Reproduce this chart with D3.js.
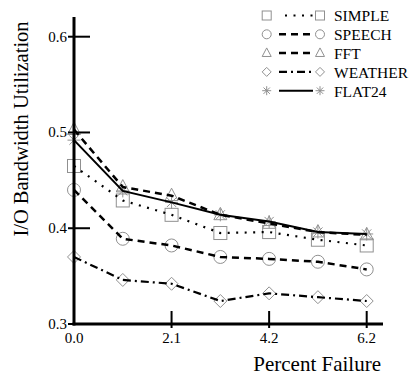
<!DOCTYPE html>
<html>
<head>
<meta charset="utf-8">
<script src="https://cdn.jsdelivr.net/npm/d3@7"></script>
<style>
  body { margin: 0; background: #fff; }
  text { font-family: "Liberation Serif", "Times New Roman", serif; }
</style>
</head>
<body>
<div id="chart"></div>
<script>
// data
const failure = [0, 1.05, 2.1, 3.15, 4.2, 5.25, 6.3];
const xTicks = [0, 2.1, 4.2, 6.3];
const xTickLabels = ["0.0", "2.1", "4.2", "6.2"];
const yTicks = [0.3, 0.4, 0.5, 0.6];
const simple  = [0.465, 0.429, 0.414, 0.395, 0.396, 0.388, 0.382];
const speech  = [0.440, 0.389, 0.382, 0.370, 0.368, 0.365, 0.357];
const fft     = [0.503, 0.443, 0.434, 0.414, 0.405, 0.396, 0.393];
const weather = [0.370, 0.346, 0.342, 0.324, 0.332, 0.328, 0.324];
const flat24  = [0.492, 0.439, 0.427, 0.414, 0.407, 0.396, 0.394];

const series = [
  {name: "SIMPLE",  vals: simple,  sym: "square",   dash: "2,6.5", w: 2.2},
  {name: "SPEECH",  vals: speech,  sym: "circle",   dash: "7,5",   w: 2.5},
  {name: "FFT",     vals: fft,     sym: "triangle", dash: "7,5",   w: 2.5},
  {name: "WEATHER", vals: weather, sym: "diamond",  dash: "8,4,2,4", w: 2.2},
  {name: "FLAT24",  vals: flat24,  sym: "star",     dash: null,    w: 2}
];

const W = 413, H = 379;
const svg = d3.select("#chart").append("svg").attr("width", W).attr("height", H);

const x = d3.scaleLinear().domain([0, 6.3]).range([74, 366.7]);
const y = d3.scaleLinear().domain([0.3, 0.6]).range([324, 36.7]);

// marker drawing
function marker(g, sym, cx, cy, s) {
  const h = s / 2;
  if (sym == "square") {
    g.append("rect").attr("x", cx - h).attr("y", cy - h).attr("width", s).attr("height", s);
  } else if (sym == "circle") {
    g.append("circle").attr("cx", cx).attr("cy", cy).attr("r", h);
  } else if (sym == "triangle") {
    g.append("path").attr("d", `M${cx},${cy - h * 1.15}L${cx + h},${cy + h * 0.75}L${cx - h},${cy + h * 0.75}Z`);
  } else if (sym == "diamond") {
    g.append("path").attr("d", `M${cx},${cy - h}L${cx + h},${cy}L${cx},${cy + h}L${cx - h},${cy}Z`);
  } else if (sym == "star") {
    const p = [];
    for (let a = 0; a < 4; a++) {
      const ang = a * Math.PI / 4;
      p.push(`M${cx - h * Math.cos(ang)},${cy - h * Math.sin(ang)}L${cx + h * Math.cos(ang)},${cy + h * Math.sin(ang)}`);
    }
    g.append("path").attr("d", p.join(""));
  }
}

const line = d3.line().x((d, i) => x(failure[i])).y(d => y(d));

// markers (grey, under lines)
const mk = svg.append("g").attr("fill", "none").attr("stroke", "#909090").attr("stroke-width", 1);
series.forEach(s => {
  s.vals.forEach((v, i) => marker(mk, s.sym, x(failure[i]), y(v), 13));
});

// lines
series.forEach(s => {
  svg.append("path").datum(s.vals)
    .attr("d", line)
    .attr("fill", "none")
    .attr("stroke", "#000")
    .attr("stroke-width", s.w)
    .attr("stroke-dasharray", s.dash);
});

// axes
const axes = svg.append("g").attr("stroke", "#000");
axes.append("line").attr("x1", 74).attr("x2", 74).attr("y1", 17).attr("y2", 325.5).attr("stroke-width", 3);
axes.append("line").attr("x1", 72.5).attr("x2", 383).attr("y1", 324).attr("y2", 324).attr("stroke-width", 3);
yTicks.forEach(t => {
  axes.append("line").attr("x1", 68).attr("x2", 90).attr("y1", y(t)).attr("y2", y(t)).attr("stroke-width", 2);
});
xTicks.forEach(t => {
  if (t > 0) axes.append("line").attr("x1", x(t)).attr("x2", x(t)).attr("y1", 311).attr("y2", 328).attr("stroke-width", 2);
});

svg.selectAll(".ylab").data(yTicks).enter().append("text")
  .attr("x", 67).attr("y", t => y(t) + 5)
  .attr("text-anchor", "end").attr("font-size", 15)
  .text(t => t.toFixed(1));

svg.selectAll(".xlab").data(xTicks).enter().append("text")
  .attr("x", t => x(t)).attr("y", 343)
  .attr("text-anchor", "middle").attr("font-size", 15)
  .text((t, i) => xTickLabels[i]);

svg.append("text").attr("x", 381).attr("y", 371)
  .attr("text-anchor", "end").attr("font-size", 21)
  .text("Percent Failure");

svg.append("text")
  .attr("transform", "translate(28,129) rotate(-90)")
  .attr("text-anchor", "middle").attr("font-size", 20.5)
  .text("I/O Bandwidth Utilization");

// legend
const leg = svg.append("g");
series.forEach((s, i) => {
  const ly = 15.5 + i * 18.8;
  const lm = leg.append("g").attr("fill", "none").attr("stroke", "#909090").attr("stroke-width", 1);
  marker(lm, s.sym, 266.7, ly, 9);
  marker(lm, s.sym, 320, ly, 9);
  leg.append("line").attr("x1", s.dash == "2,6.5" ? 285 : 279).attr("x2", 313).attr("y1", ly).attr("y2", ly)
    .attr("stroke", "#000").attr("stroke-width", s.w)
    .attr("stroke-dasharray", s.dash);
  leg.append("text").attr("x", 334).attr("y", ly + 5.8).attr("font-size", 15.5).text(s.name);
});
</script>
</body>
</html>
